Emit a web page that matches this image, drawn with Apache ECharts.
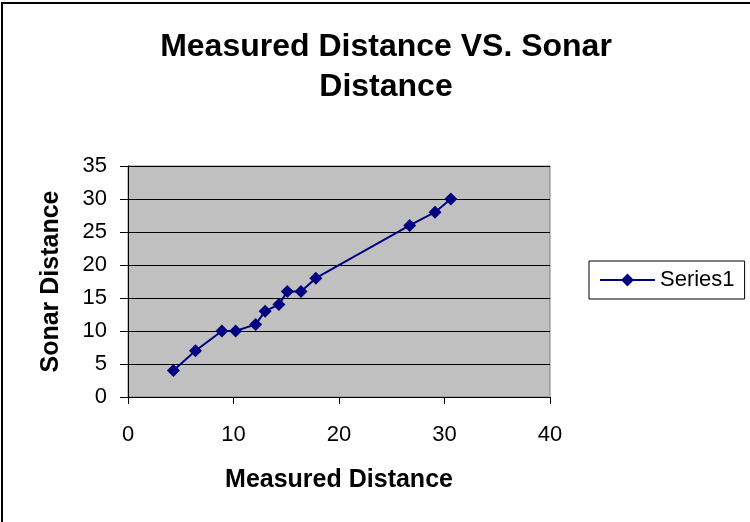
<!DOCTYPE html>
<html>
<head>
<meta charset="utf-8">
<script src="https://cdn.jsdelivr.net/npm/echarts@6/dist/echarts.min.js"></script>
<style>
  html, body { margin: 0; padding: 0; background: #fff; }
  #chart { width: 750px; height: 522px; }
</style>
</head>
<body>
<div id="chart"></div>
<script>
// measured vs sonar distance
const measured = [4.3, 6.4, 8.9, 10.2, 12.1, 13.0, 14.3, 15.1, 16.4, 17.8, 26.7, 29.1, 30.6];
const sonar = [4, 7, 10, 10, 11, 13, 14, 16, 16, 18, 26, 28, 30];
const seriesName = "Series1";

const points = measured.map((m, i) => [m, sonar[i]]);

const myChart = echarts.init(document.getElementById("chart"));
myChart.setOption({
  animation: false,
  textStyle: { fontFamily: "Liberation Sans, Arial, sans-serif" },
  title: {
    text: "Measured Distance VS. Sonar\nDistance",
    left: 381,
    top: 22,
    textAlign: "center",
    textStyle: {
      fontSize: 32,
      fontWeight: "bold",
      color: "#000",
      lineHeight: 40,
    },
  },
  graphic: [
    {
      type: "rect",
      shape: { x: 2, y: 3, width: 800, height: 600 },
      style: { fill: "none", stroke: "#000", lineWidth: 2 },
      z: -1,
    },
  ],
  legend: {
    left: 589,
    top: 261,
    padding: [8, 10, 8, 10],
    borderColor: "#000",
    borderWidth: 1,
    itemWidth: 55,
    itemHeight: 16,
    itemGap: 4,
    textStyle: { fontSize: 22, color: "#000" },
    data: [seriesName],
  },
  grid: {
    left: 128,
    top: 166,
    width: 422,
    height: 231,
    show: true,
    backgroundColor: "#c0c0c0",
    borderColor: "#808080",
    borderWidth: 1,
  },
  xAxis: {
    type: "value",
    min: 0,
    max: 40,
    interval: 10,
    name: "Measured Distance",
    nameLocation: "middle",
    nameGap: 71,
    nameTextStyle: { fontSize: 25, fontWeight: "bold", color: "#000" },
    axisLine: { show: true, onZero: false, lineStyle: { color: "#000" } },
    axisTick: { show: true, length: 7, lineStyle: { color: "#000" } },
    axisLabel: { fontSize: 22, color: "#000", margin: 27 },
    splitLine: { show: false },
  },
  yAxis: {
    type: "value",
    min: 0,
    max: 35,
    interval: 5,
    name: "Sonar Distance",
    nameLocation: "middle",
    nameGap: 64,
    nameTextStyle: { fontSize: 25, fontWeight: "bold", color: "#000" },
    axisLine: { show: true, onZero: false, lineStyle: { color: "#000" } },
    axisTick: { show: true, length: 8, lineStyle: { color: "#000" } },
    axisLabel: { fontSize: 22, color: "#000", margin: 21 },
    splitLine: { show: true, lineStyle: { color: "#000", width: 1 } },
  },
  series: [
    {
      name: seriesName,
      type: "line",
      data: points,
      symbol: "diamond",
      symbolSize: 13,
      color: "#000080",
      lineStyle: { color: "#000080", width: 2 },
      itemStyle: { color: "#000080" },
    },
  ],
});
</script>
</body>
</html>
